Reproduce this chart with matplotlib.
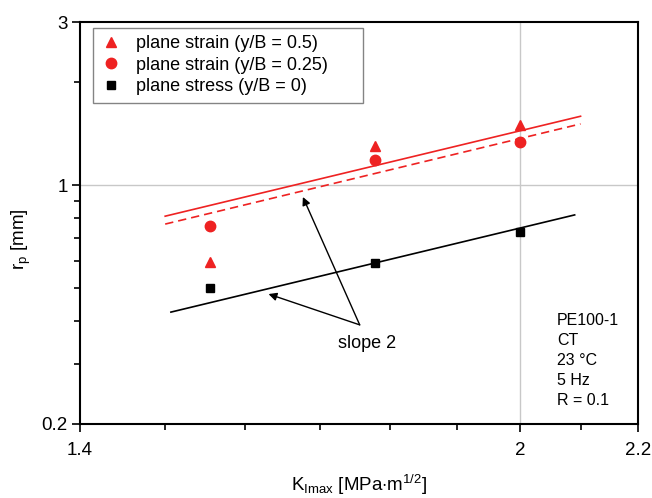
import matplotlib
matplotlib.use("Agg")
import matplotlib.pyplot as plt
from matplotlib.ticker import FixedLocator, NullFormatter, FixedFormatter

plt.rcParams['font.family'] = ['Liberation Sans', 'DejaVu Sans']
plt.rcParams['mathtext.fontset'] = 'custom'
plt.rcParams['mathtext.rm'] = 'Liberation Sans'
plt.rcParams['mathtext.it'] = 'Liberation Sans'

# K_Imax values of the three tests
k_imax = [1.555, 1.778, 2.0]

# r_p values
rp_strain_05 = [0.596, 1.30, 1.50]
rp_strain_025 = [0.759, 1.185, 1.34]
rp_stress = [0.50, 0.592, 0.729]

# slope-2 fit lines (end points)
fit_red_x = [1.50, 2.10]
fit_red_solid = [0.811, 1.59]
fit_red_dashed = [0.769, 1.51]
fit_black_x = [1.507, 2.09]
fit_black = [0.425, 0.818]

red = '#ee2222'

fig = plt.figure(figsize=(6.52, 4.98), dpi=100)
ax = fig.add_axes([0.1227, 0.1486, 0.8558, 0.8072])

ax.set_xscale('log')
ax.set_yscale('log')
ax.set_xlim(1.4, 2.2)
ax.set_ylim(0.2, 3)

ax.axvline(2.0, color='#c8c8c8', lw=1, zorder=0)
ax.axhline(1.0, color='#c8c8c8', lw=1, zorder=0)

ax.plot(fit_red_x, fit_red_solid, color=red, lw=1.2)
ax.plot(fit_red_x, fit_red_dashed, color=red, lw=1.2, ls=(0, (5, 3)))
ax.plot(fit_black_x, fit_black, color='black', lw=1.2)

ax.plot(k_imax, rp_strain_05, ls='none', marker='^', ms=7.5, color=red,
        label='plane strain (y/B = 0.5)')
ax.plot(k_imax, rp_strain_025, ls='none', marker='o', ms=7.5, color=red,
        label='plane strain (y/B = 0.25)')
ax.plot(k_imax, rp_stress, ls='none', marker='s', ms=6, color='black',
        label='plane stress (y/B = 0)')

# slope annotations
arrow = dict(arrowstyle='-|>', color='black', lw=1, mutation_scale=12,
             shrinkA=0, shrinkB=0)
ax.annotate('', xy=(1.677, 0.923), xytext=(1.756, 0.390), arrowprops=arrow)
ax.annotate('', xy=(1.631, 0.480), xytext=(1.756, 0.390), arrowprops=arrow)
ax.text(1.766, 0.343, 'slope 2', fontsize=13, ha='center', va='center')

ax.text(0.855, 0.159, 'PE100-1\nCT\n23 °C\n5 Hz\nR = 0.1', transform=ax.transAxes,
        fontsize=11.5, ha='left', va='center', linespacing=1.42)

ax.xaxis.set_major_locator(FixedLocator([1.4, 2.0, 2.2]))
ax.xaxis.set_major_formatter(FixedFormatter(['1.4', '2', '2.2']))
ax.xaxis.set_minor_locator(FixedLocator([1.5, 1.6, 1.7, 1.8, 1.9, 2.1]))
ax.xaxis.set_minor_formatter(NullFormatter())
ax.yaxis.set_major_locator(FixedLocator([0.2, 1.0, 3.0]))
ax.yaxis.set_major_formatter(FixedFormatter(['0.2', '1', '3']))
ax.yaxis.set_minor_locator(FixedLocator([0.3, 0.4, 0.5, 0.6, 0.7, 0.8, 0.9, 2.0]))
ax.yaxis.set_minor_formatter(NullFormatter())

ax.tick_params(which='both', direction='out', width=1.2, labelsize=13.5, colors='black')
ax.tick_params(which='major', length=6, pad=3)
ax.tick_params(which='minor', length=4)
ax.tick_params(axis='x', which='major', pad=7)

for s in ax.spines.values():
    s.set_linewidth(1.5)

ax.set_xlabel(r'K$_{\mathrm{Imax}}$ [MPa$\cdot$m$^{\mathrm{1/2}}$]', fontsize=13.5, labelpad=10)
ax.set_ylabel(r'r$_{\mathrm{p}}$ [mm]', fontsize=13.5)
ax.yaxis.set_label_coords(-0.085, 0.46)

leg = ax.legend(loc='upper left', bbox_to_anchor=(0.023, 0.5, 0.484, 0.485),
                mode='expand', fontsize=13,
                frameon=True, fancybox=False, edgecolor='#666666',
                handletextpad=0.8, borderpad=0.4, labelspacing=0.25,
                handlelength=1.2, borderaxespad=0)
leg.get_frame().set_linewidth(1.0)

fig.savefig('out.png', dpi=100)
